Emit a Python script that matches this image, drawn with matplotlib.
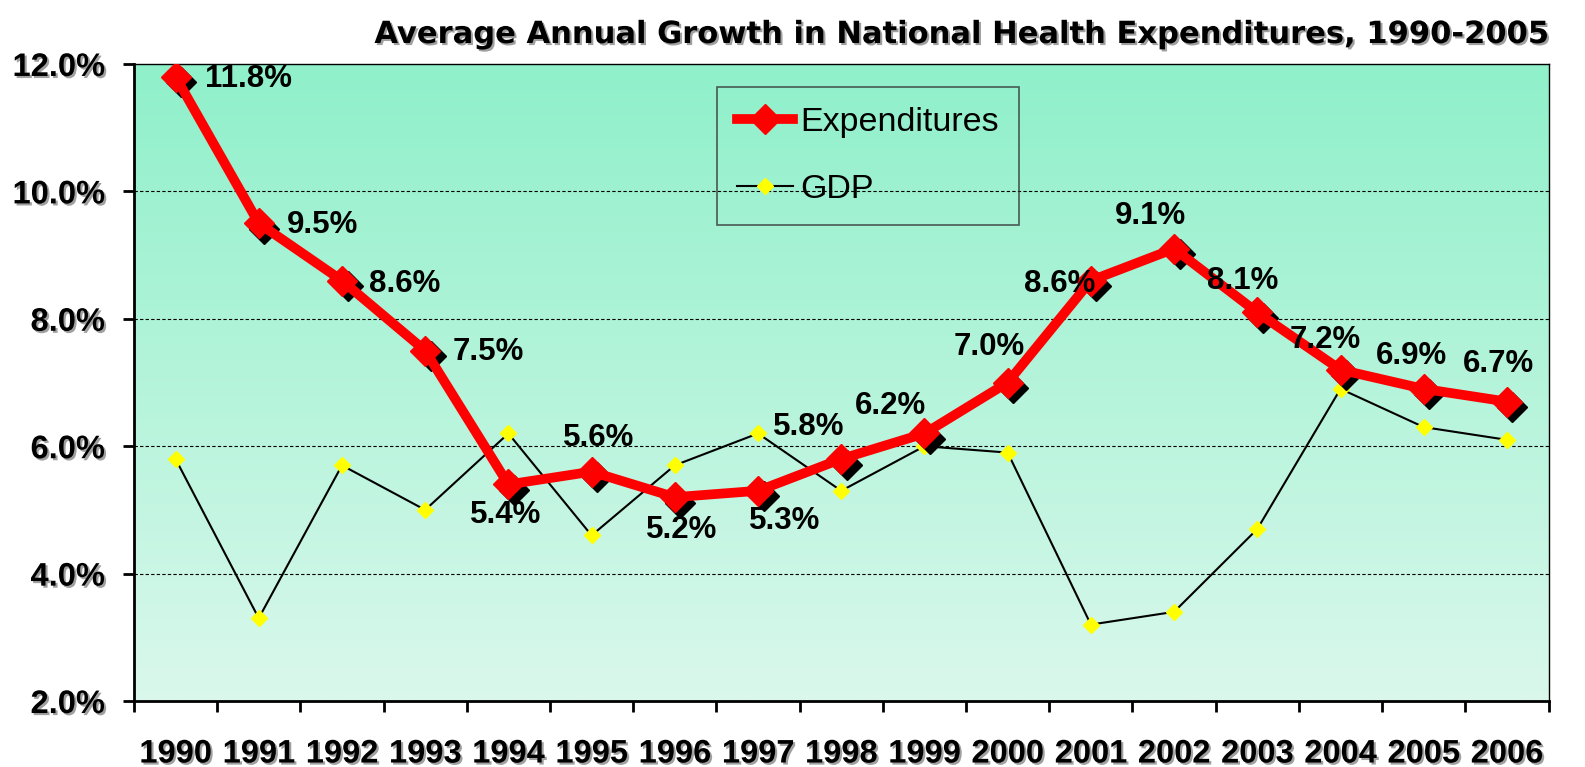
import matplotlib
matplotlib.use("Agg")
import matplotlib.pyplot as plt
import matplotlib.patheffects as pe
import matplotlib.transforms as mtransforms
import numpy as np

years = ["1990", "1991", "1992", "1993", "1994", "1995", "1996", "1997", "1998",
         "1999", "2000", "2001", "2002", "2003", "2004", "2005", "2006"]
expenditures = [11.8, 9.5, 8.6, 7.5, 5.4, 5.6, 5.2, 5.3, 5.8,
                6.2, 7.0, 8.6, 9.1, 8.1, 7.2, 6.9, 6.7]
gdp = [5.8, 3.3, 5.7, 5.0, 6.2, 4.6, 5.7, 6.2, 5.3,
       6.0, 5.9, 3.2, 3.4, 4.7, 6.9, 6.3, 6.1]
# where each data label sits relative to its point (pixels)
label_offsets = [(73, -2), (64, -2), (63, -3), (63, -1), (-3, -31), (7, 34),
                 (7, -33), (27, -30), (-33, 32), (-34, 27), (-18, 36), (-31, -3),
                 (-24, 33), (-15, 31), (-15, 30), (-12, 33), (-8, 38)]

plt.rcParams['font.family'] = ['Liberation Sans', 'DejaVu Sans']

fig = plt.figure(figsize=(15.85, 7.67), dpi=100)
ax = fig.add_axes([0.0845, 0.086, 0.8925, 0.8306])

x = np.arange(len(years))
ax.set_xlim(-0.5, len(years) - 0.5)
ax.set_ylim(2, 12)

# gradient background
top = np.array([143, 240, 202]) / 255.0
bot = np.array([218, 248, 236]) / 255.0
t = np.linspace(0, 1, 256)[:, None]
grad = (top * (1 - t) + bot * t)[:, None, :]
ax.imshow(grad, extent=[-0.5, len(years) - 0.5, 2, 12], aspect='auto',
          origin='upper', zorder=0)

for yv in [4, 6, 8, 10]:
    ax.axhline(yv, color='black', lw=0.8, ls=(0, (3, 2)), zorder=1)

ax.plot(x, gdp, color='black', lw=1.5, marker='D', markersize=8,
        markerfacecolor='yellow', markeredgecolor='yellow', zorder=3, label='GDP')

shadow = mtransforms.offset_copy(ax.transData, fig=fig, x=4, y=-4, units='points')
ax.plot(x, expenditures, ls='none', marker='D', markersize=15, color='black',
        transform=shadow, zorder=4)
ax.plot(x, expenditures, color='red', lw=7, marker='D', markersize=15,
        markerfacecolor='red', markeredgecolor='red', zorder=5, label='Expenditures')

for xi, v, (dx, dy) in zip(x, expenditures, label_offsets):
    ax.annotate(f"{v:.1f}%", (xi, v), xytext=(dx, dy), textcoords='offset pixels',
                ha='center', va='center', fontsize=22.5, fontweight='bold', zorder=6)

shade = [pe.withSimplePatchShadow(offset=(1.5, -1.5), shadow_rgbFace='#888888', alpha=0.8)]

ax.set_xticks(np.arange(-0.5, len(years), 1.0))
ax.set_xticklabels([])
ax.set_xticks(x, minor=True)
ax.set_xticklabels(years, minor=True, fontsize=23.5, fontweight='bold')
ax.tick_params(axis='x', which='major', direction='out', length=8, width=2)
ax.tick_params(axis='x', which='minor', length=0, pad=27)
ax.set_yticks([2, 4, 6, 8, 10, 12])
ax.set_yticklabels([f"{v:.1f}%" for v in [2, 4, 6, 8, 10, 12]], fontsize=23.5, fontweight='bold')
ax.tick_params(axis='y', direction='out', length=8, width=2, pad=13)
for lab in ax.get_xticklabels(minor=True) + ax.get_yticklabels():
    lab.set_path_effects(shade)

for side in ['left', 'bottom']:
    ax.spines[side].set_linewidth(2)
for side in ['top', 'right']:
    ax.spines[side].set_linewidth(1)

handles, labels = ax.get_legend_handles_labels()
leg = ax.legend(handles[::-1], labels[::-1], loc='upper left',
                bbox_to_anchor=(0.412, 0.964), borderaxespad=0, fontsize=24.5,
                frameon=True, fancybox=False, edgecolor='#333333', facecolor='none',
                labelspacing=1.05, handlelength=1.65, handletextpad=0.2,
                borderpad=0.6)
leg.get_frame().set_linewidth(1.2)

fig.text(0.975, 0.955, "Average Annual Growth in National Health Expenditures, 1990-2005",
         ha='right', va='center', fontsize=22, family='DejaVu Sans',
         fontweight='bold', path_effects=shade)

fig.savefig("out.png", dpi=100)
